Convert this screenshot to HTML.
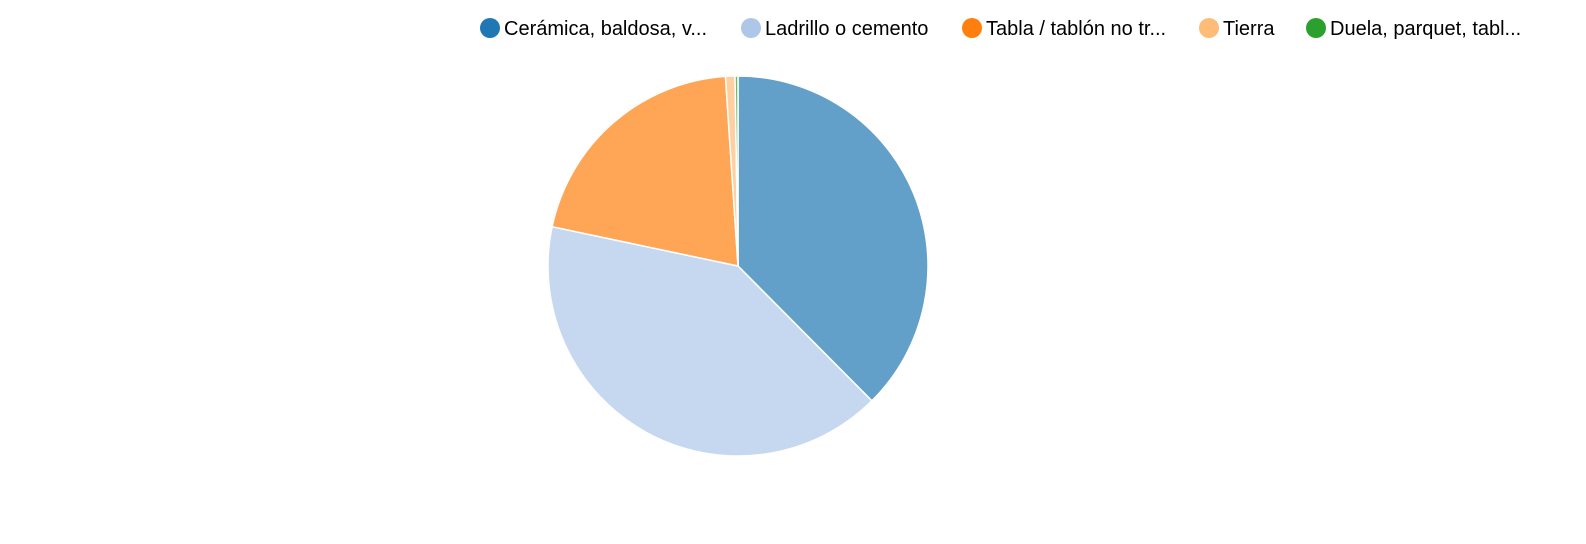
<!DOCTYPE html>
<html><head><meta charset="utf-8"><style>
body{margin:0;background:#fff;width:1586px;height:539px;overflow:hidden;font-family:"Liberation Sans",sans-serif}
</style></head><body>
<svg id="chart" width="1586" height="539" xmlns="http://www.w3.org/2000/svg">
<g id="legend"></g>
<g id="pie"></g>
</svg>
<script>
const categories = ["Cerámica, baldosa, v...", "Ladrillo o cemento", "Tabla / tablón no tr...", "Tierra", "Duela, parquet, tabl..."];
const values = [37.5, 40.7, 20.6, 0.8, 0.25];
const colors = ["#1f77b4", "#aec7e8", "#ff7f0e", "#ffbb78", "#2ca02c"];
const legendX = [490, 751, 972, 1209, 1316];

const NS = "http://www.w3.org/2000/svg";
const cx = 738, cy = 266, r = 190;
const pie = document.getElementById('pie');
const total = values.reduce((a,b)=>a+b,0);
let a0 = 0;
function pt(a){return [cx + r*Math.sin(a), cy - r*Math.cos(a)];}
values.forEach((v,i)=>{
  const a1 = a0 + v/total*2*Math.PI;
  const p0 = pt(a0), p1 = pt(a1);
  const large = (a1-a0) > Math.PI ? 1 : 0;
  const path = document.createElementNS(NS,'path');
  path.setAttribute('d', `M${cx},${cy}L${p0[0]},${p0[1]}A${r},${r} 0 ${large} 1 ${p1[0]},${p1[1]}Z`);
  path.setAttribute('fill', colors[i]);
  path.setAttribute('fill-opacity', '0.7');
  path.setAttribute('stroke', '#fff');
  path.setAttribute('stroke-width', '1.5');
  
  
  pie.appendChild(path);
  a0 = a1;
});
const legend = document.getElementById('legend');
categories.forEach((c,i)=>{
  const g = document.createElementNS(NS,'g');
  
  
  const circ = document.createElementNS(NS,'circle');
  circ.setAttribute('cx', legendX[i]); circ.setAttribute('cy', 28); circ.setAttribute('r', 10);
  circ.setAttribute('fill', colors[i]);
  
  
  const t = document.createElementNS(NS,'text');
  t.setAttribute('x', legendX[i] + 14); t.setAttribute('y', 35);
  t.setAttribute('font-size', '20'); t.setAttribute('fill', '#000');
  t.setAttribute('font-family', 'Liberation Sans, sans-serif');
  
  
  t.textContent = c;
  g.appendChild(circ); g.appendChild(t); legend.appendChild(g);
});
</script>
</body></html>
